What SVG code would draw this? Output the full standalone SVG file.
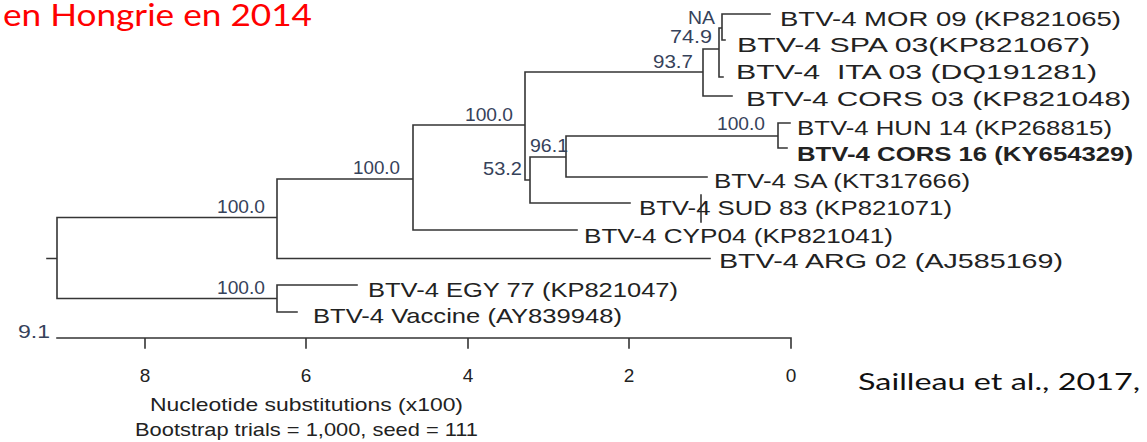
<svg xmlns="http://www.w3.org/2000/svg" width="1147" height="442" viewBox="0 0 1147 442">
<style>
.br{fill:none;stroke:#353535;stroke-width:1.6;stroke-linecap:square}
.lf{font-family:"Liberation Sans",Arial,sans-serif;font-size:21px;fill:#222;}
.bs{font-family:"Liberation Sans",Arial,sans-serif;font-size:17.5px;fill:#36425a;}
.ax{font-family:"Liberation Sans",Arial,sans-serif;font-size:19px;fill:#222;}
.cal{font-family:Lato,"Open Sans",sans-serif;}
</style>
<rect width="1147" height="442" fill="#fff"/>
<text id="title" class="cal" x="3" y="26" font-size="30" fill="#ff0000" textLength="309" lengthAdjust="spacingAndGlyphs">en Hongrie en 2014</text>

<g id="connectors">
<path class="br" d="M47,258.5H57 M57,217.5V298.5 M57,217.5H277 M57,298.5H277
M277,179V258.5 M277,179H413 M277,258.5H710
M277,285V312 M277,285H357 M277,312H297
M413,125V230 M413,125H525 M413,230H577
M525,72V180 M525,72H703 M525,180H530
M530,157V203 M530,157H566 M530,203H630
M566,136V177 M566,136H778 M566,177H707
M778,123V148 M778,123H790 M778,148H787
M703,49V96 M703,49H719 M703,96H732
M719,28V77 M719,28H722 M719,77H723
M722,14V40 M722,14H770 M722,40H725
M701,195V222"/>
</g>

<g id="leaf-MOR09"><text class="lf" x="780" y="26" textLength="341" lengthAdjust="spacingAndGlyphs">BTV-4 MOR 09 (KP821065)</text></g>
<g id="leaf-SPA03"><text class="lf" x="737" y="52" textLength="353" lengthAdjust="spacingAndGlyphs">BTV-4 SPA 03(KP821067)</text></g>
<g id="leaf-ITA03"><text class="lf" x="736" y="79" xml:space="preserve" textLength="361" lengthAdjust="spacingAndGlyphs">BTV-4  ITA 03 (DQ191281)</text></g>
<g id="leaf-CORS03"><text class="lf" x="746" y="106" textLength="385" lengthAdjust="spacingAndGlyphs">BTV-4 CORS 03 (KP821048)</text></g>
<g id="leaf-HUN14"><text class="lf" x="797" y="135" textLength="315" lengthAdjust="spacingAndGlyphs">BTV-4 HUN 14 (KP268815)</text></g>
<g id="leaf-CORS16"><text class="lf" x="797" y="161" font-weight="bold" textLength="336" lengthAdjust="spacingAndGlyphs">BTV-4 CORS 16 (KY654329)</text></g>
<g id="leaf-SA"><text class="lf" x="714" y="188" textLength="256" lengthAdjust="spacingAndGlyphs">BTV-4 SA (KT317666)</text></g>
<g id="leaf-SUD83"><text class="lf" x="639" y="215" textLength="313" lengthAdjust="spacingAndGlyphs">BTV-4 SUD 83 (KP821071)</text></g>
<g id="leaf-CYP04"><text class="lf" x="584" y="243" textLength="309" lengthAdjust="spacingAndGlyphs">BTV-4 CYP04 (KP821041)</text></g>
<g id="leaf-ARG02"><text class="lf" x="719" y="268" textLength="344" lengthAdjust="spacingAndGlyphs">BTV-4 ARG 02 (AJ585169)</text></g>
<g id="leaf-EGY77"><text class="lf" x="368" y="297" textLength="310" lengthAdjust="spacingAndGlyphs">BTV-4 EGY 77 (KP821047)</text></g>
<g id="leaf-Vaccine"><text class="lf" x="313" y="323" textLength="309" lengthAdjust="spacingAndGlyphs">BTV-4 Vaccine (AY839948)</text></g>

<g id="bootstrap">
<text class="bs" x="688" y="24" textLength="27" lengthAdjust="spacingAndGlyphs">NA</text>
<text class="bs" x="670" y="43" textLength="42" lengthAdjust="spacingAndGlyphs">74.9</text>
<text class="bs" x="653" y="68" textLength="40" lengthAdjust="spacingAndGlyphs">93.7</text>
<text class="bs" x="465" y="121" textLength="48" lengthAdjust="spacingAndGlyphs">100.0</text>
<text class="bs" x="717" y="130" textLength="48" lengthAdjust="spacingAndGlyphs">100.0</text>
<text class="bs" x="530" y="152" textLength="38" lengthAdjust="spacingAndGlyphs">96.1</text>
<text class="bs" x="483" y="175" textLength="39" lengthAdjust="spacingAndGlyphs">53.2</text>
<text class="bs" x="353" y="174" textLength="47" lengthAdjust="spacingAndGlyphs">100.0</text>
<text class="bs" x="217" y="213" textLength="48" lengthAdjust="spacingAndGlyphs">100.0</text>
<text class="bs" x="217" y="294" textLength="48" lengthAdjust="spacingAndGlyphs">100.0</text>
</g>

<g id="axis">
<path class="br" d="M57,338H791 M145,338V348 M306,338V348 M468,338V348 M629,338V348 M791,338V348"/>
<text class="bs" x="18" y="338" textLength="32" lengthAdjust="spacingAndGlyphs">9.1</text>
<g class="ax" text-anchor="middle">
<text x="145" y="382">8</text>
<text x="306" y="382">6</text>
<text x="468" y="382">4</text>
<text x="629" y="382">2</text>
<text x="791" y="382">0</text>
</g>
<text class="ax" x="150" y="411" textLength="313" lengthAdjust="spacingAndGlyphs">Nucleotide substitutions (x100)</text>
<text class="ax" x="135" y="436" textLength="343" lengthAdjust="spacingAndGlyphs">Bootstrap trials = 1,000, seed = 111</text>
</g>

<text id="citation" class="cal" x="858" y="390" font-size="23" fill="#111" textLength="282" lengthAdjust="spacingAndGlyphs">Sailleau et al., 2017,</text>
</svg>
